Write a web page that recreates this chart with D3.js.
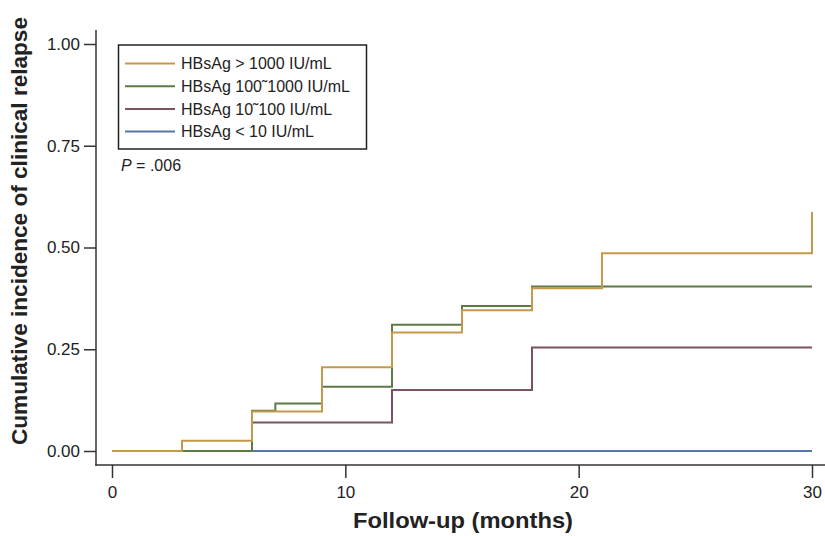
<!DOCTYPE html>
<html>
<head>
<meta charset="utf-8">
<title>Cumulative incidence</title>
<script src="https://d3js.org/d3.v7.min.js"></script>
<style>
  body { margin: 0; background: #fff; }
  text { font-family: "Liberation Sans", Arial, sans-serif; fill: #222; }
</style>
</head>
<body>
<div id="chart"></div>
<script>
// step data
const groups = ["HBsAg > 1000 IU/mL", "HBsAg 100\u02dc1000 IU/mL", "HBsAg 10\u02dc100 IU/mL", "HBsAg < 10 IU/mL"];
const colors = ["#c49a4a", "#5c7a45", "#7a5262", "#5577aa"];

const tOver1000 = [0, 3, 6, 9, 12, 15, 18, 21, 30];
const vOver1000 = [0, 0.025, 0.097, 0.206, 0.291, 0.346, 0.40, 0.486, 0.587];
const t100to1000 = [0, 6, 7, 9, 12, 15, 18, 30];
const v100to1000 = [0, 0.099, 0.117, 0.158, 0.31, 0.356, 0.404, 0.404];
const t10to100 = [0, 6, 12, 18, 30];
const v10to100 = [0, 0.07, 0.15, 0.254, 0.254];
const tUnder10 = [0, 30];
const vUnder10 = [0, 0];

const yTicks = [0, 0.25, 0.5, 0.75, 1];
const xTicks = [0, 10, 20, 30];

const series = [
  {t: tOver1000, v: vOver1000},
  {t: t100to1000, v: v100to1000},
  {t: t10to100, v: v10to100},
  {t: tUnder10, v: vUnder10}
];

const W = 825, H = 536;
const svg = d3.select("#chart").append("svg")
    .attr("width", W).attr("height", H);

const x = d3.scaleLinear().domain([0, 30]).range([112, 812]);
const y = d3.scaleLinear().domain([0, 1]).range([451, 44]);

// axes
const yAxis = d3.axisLeft(y).tickValues(yTicks).tickFormat(d3.format(".2f")).tickSize(12).tickPadding(4);
const gy = svg.append("g").attr("transform", "translate(96,0)").call(yAxis);
gy.select(".domain").remove();
gy.selectAll("line").attr("stroke", "#333").attr("stroke-width", 1.5);
gy.selectAll("text").style("font-size", "17px").attr("fill", "#333");

const xAxis = d3.axisBottom(x).tickValues(xTicks).tickSize(13).tickPadding(8);
const gx = svg.append("g").attr("transform", "translate(0,465)").call(xAxis);
gx.select(".domain").remove();
gx.selectAll("line").attr("stroke", "#333").attr("stroke-width", 1.5);
gx.selectAll("text").style("font-size", "17px").attr("fill", "#333");

svg.append("line").attr("x1", 96).attr("x2", 96).attr("y1", 30).attr("y2", 465.7)
    .attr("stroke", "#333").attr("stroke-width", 1.5);
svg.append("line").attr("x1", 95.3).attr("x2", 825).attr("y1", 465).attr("y2", 465)
    .attr("stroke", "#333").attr("stroke-width", 1.5);

// curves, lowest group drawn first so the top group sits above
const line = d3.line()
    .x(d => x(d[0]))
    .y(d => y(d[1]))
    .curve(d3.curveStepAfter);

for (let i = series.length - 1; i >= 0; i--) {
  const pts = series[i].t.map((t, j) => [t, series[i].v[j]]);
  svg.append("path")
      .datum(pts)
      .attr("d", line)
      .attr("fill", "none")
      .attr("stroke", colors[i])
      .attr("stroke-width", 2);
}

// legend
const lg = svg.append("g");
lg.append("rect").attr("x", 118.5).attr("y", 45).attr("width", 248).attr("height", 104)
    .attr("fill", "#fff").attr("stroke", "#222").attr("stroke-width", 1.5);
groups.forEach((g, i) => {
  const yy = 63.5 + i * 22.7;
  lg.append("line").attr("x1", 125).attr("x2", 175).attr("y1", yy).attr("y2", yy)
      .attr("stroke", colors[i]).attr("stroke-width", 2);
  lg.append("text").attr("x", 181).attr("y", yy + 5.8)
      .style("font-size", "16px").text(g);
});

const p = svg.append("text").attr("x", 121).attr("y", 171).style("font-size", "16px");
p.append("tspan").style("font-style", "italic").text("P");
p.append("tspan").text(" = .006");

// axis titles
svg.append("text")
    .attr("transform", "translate(27,231) rotate(-90)")
    .style("text-anchor", "middle")
    .style("font-size", "22px")
    .style("font-weight", "bold")
    .attr("fill", "#111")
    .attr("textLength", 428)
    .attr("lengthAdjust", "spacingAndGlyphs")
    .text("Cumulative incidence of clinical relapse");

svg.append("text")
    .attr("x", 463).attr("y", 528)
    .style("text-anchor", "middle")
    .style("font-size", "22px")
    .style("font-weight", "bold")
    .attr("fill", "#111")
    .attr("textLength", 220)
    .attr("lengthAdjust", "spacingAndGlyphs")
    .text("Follow-up (months)");
</script>
</body>
</html>
